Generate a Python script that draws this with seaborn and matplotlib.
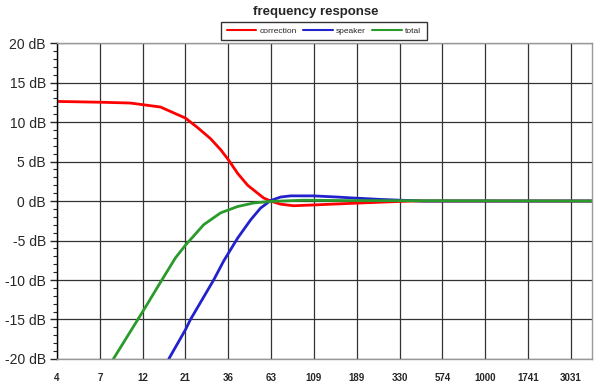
import numpy as np
import pandas as pd
import seaborn as sns
import matplotlib
matplotlib.use("Agg")
import matplotlib.pyplot as plt
from matplotlib.ticker import FixedLocator, MultipleLocator, NullFormatter

# values (frequency in Hz, level in dB)
corr_freq = [4, 7, 10.1, 14.9, 20.6, 24.1, 28.5, 32.5, 36, 40.5, 46.1, 52.4, 56.6, 62,
             70.6, 83.6, 108.3, 175, 258, 381, 4000]
corr_db = [12.6, 12.5, 12.4, 11.9, 10.5, 9.3, 7.9, 6.5, 5.2, 3.5, 2.0, 1.0, 0.4, 0.0,
           -0.4, -0.6, -0.5, -0.3, -0.15, 0.0, 0.0]

spk_freq = [16.6, 20.6, 22, 29.7, 33.8, 40.5, 47.9, 54.5, 62, 70.6, 80.4, 108.3, 147.7,
            175, 258, 334, 451, 4000]
spk_db = [-20, -16.3, -15, -10, -7.6, -4.7, -2.4, -0.9, 0.05, 0.5, 0.65, 0.65, 0.5,
          0.4, 0.2, 0.1, 0.0, 0.0]

tot_freq = [8.1, 12, 14.9, 18.1, 20.6, 26.1, 32.5, 40.5, 49.8, 62, 95, 175, 4000]
tot_db = [-20, -13.8, -10.3, -7.2, -5.6, -3.0, -1.5, -0.7, -0.25, -0.05, 0.1, 0.05, 0.0]

x_labels = ["4", "7", "12", "21", "36", "63", "109", "189", "330", "574", "1000", "1741", "3031"]
y_labels = ["20 dB", "15 dB", "10 dB", "5 dB", "0 dB", "-5 dB", "-10 dB", "-15 dB", "-20 dB"]
series_names = ["correction", "speaker", "total"]
colors = ["#ff0000", "#2222cc", "#2a9a2a"]

df = pd.concat([
    pd.DataFrame({"freq": corr_freq, "db": corr_db, "series": "correction"}),
    pd.DataFrame({"freq": spk_freq, "db": spk_db, "series": "speaker"}),
    pd.DataFrame({"freq": tot_freq, "db": tot_db, "series": "total"}),
], ignore_index=True)

sns.set_style("white")
plt.rcParams["font.family"] = ["Liberation Sans", "DejaVu Sans"]

fig = plt.figure(figsize=(6, 3.9), dpi=100)
ax = fig.add_axes([0.095, 0.0795, 0.892, 0.8102])

sns.lineplot(data=df, x="freq", y="db", hue="series", hue_order=series_names,
             palette=colors, linewidth=2, ax=ax, sort=False, legend=False)

step = 10 ** 0.24085
ticks = [1000 * step ** k for k in range(-10, 3)]
ax.set_xscale("log")
ax.set_xlim(ticks[0], 1000 * step ** 2.5)
ax.set_ylim(-20, 20)

ax.xaxis.set_major_locator(FixedLocator(ticks))
ax.xaxis.set_minor_locator(FixedLocator([]))
ax.xaxis.set_minor_formatter(NullFormatter())
ax.set_xticklabels(x_labels, fontsize=7, fontweight="bold")
ax.tick_params(axis="x", length=0, pad=10)

ax.set_yticks(np.arange(20, -21, -5))
ax.set_yticklabels(y_labels, fontsize=10)
ax.yaxis.set_minor_locator(MultipleLocator(1))
ax.tick_params(axis="y", which="major", length=5, width=1, direction="out", left=True, pad=3)
ax.tick_params(axis="y", which="minor", length=3, width=0.8, direction="out", left=True)

ax.grid(True, which="major", color="#333333", linewidth=0.9)
ax.set_axisbelow(True)
for side, c in [("left", "black"), ("bottom", "#999999"), ("top", "#999999"), ("right", "#999999")]:
    ax.spines[side].set_color(c)
    ax.spines[side].set_linewidth(1)

ax.set_xlabel("")
ax.set_ylabel("")
fig.text(316 / 600, 1 - 12 / 390, "frequency response", fontsize=9.5, fontweight="bold",
         ha="center", va="center")

handles = [plt.Line2D([], [], color=c, linewidth=1.5) for c in colors]
leg = ax.legend(handles, series_names, ncol=3, loc="upper center",
                bbox_to_anchor=(324 / 600, 1 - 21.5 / 390), bbox_transform=fig.transFigure,
                fontsize=6, frameon=True, fancybox=False, handlelength=3.5, handletextpad=0.4,
                columnspacing=0.8, borderpad=0.65, borderaxespad=0)
leg.get_frame().set_edgecolor("black")
leg.get_frame().set_linewidth(1)

fig.savefig("out.png", dpi=100)
